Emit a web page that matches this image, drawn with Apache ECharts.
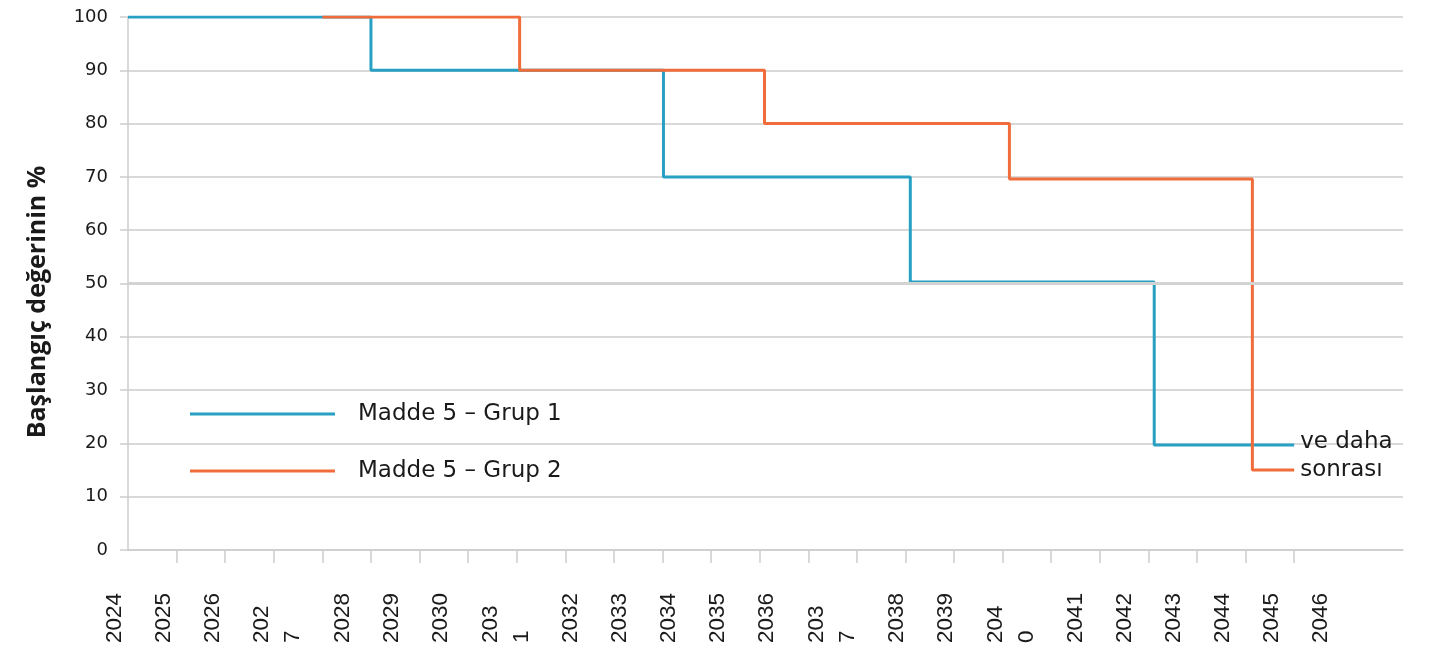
<!DOCTYPE html>
<html>
<head>
<meta charset="utf-8">
<script src="https://cdn.jsdelivr.net/npm/echarts@6/dist/echarts.min.js"></script>
<style>
  html, body { margin: 0; padding: 0; background: #ffffff; }
  #chart { width: 1430px; height: 648px; }
</style>
</head>
<body>
<div id="chart"></div>
<script>
// ---- data ----
// x positions are measured in tick intervals from the first tick (2024 = 0)
const tickLabels = ['2024', '2025', '2026', '202\n7', '2028', '2029', '2030', '203\n1', '2032', '2033',
  '2034', '2035', '2036', '203\n7', '2038', '2039', '204\n0', '2041', '2042', '2043', '2044', '2045', '2046'];
const tickCount = 25;
const yTicks = [0, 10, 20, 30, 40, 50, 60, 70, 80, 90, 100];

const group1Name = 'Madde 5 \u2013 Grup 1';
const group1X = [0, 5, 11.02, 16.1, 21.12, 24];
const group1Y = [100, 90, 70, 50.3, 19.7, 19.7];

const group2Name = 'Madde 5 \u2013 Grup 2';
const group2X = [4, 8.06, 13.1, 18.14, 23.14, 24];
const group2Y = [100, 90, 80, 69.6, 15, 15];

const endText1 = 've daha';
const endText2 = 'sonras\u0131';
const yTitle = 'Ba\u015flang\u0131\u00e7 de\u011ferinin %';
const emphasisLine = 50;

// ---- layout ----
const TICK_PX = 48.57;          // px per tick interval
const LABEL_STEP_PX = 49;       // spacing of single-line labels
const WRAP_EXTRA_PX = 32;       // extra room a wrapped label takes
const LINE_H = 31;              // label line height
const FIRST_LABEL_OFFSET = -13.3; // first label centre relative to first tick
const AXIS_MAX = 26.24;

// labels get a trailing blank line, which moves the text left by LINE_H/2,
// so anchors sit LINE_H/2 to the right of the wanted text centre.
// Empty placeholder labels at both axis ends keep ECharts' min/max label
// overlap check from hiding real labels.
const labelPos = [0];
const labelMap = {};
let extra = 0;
tickLabels.forEach((lab, i) => {
  const wrapped = lab.indexOf('\n') >= 0;
  const centre = FIRST_LABEL_OFFSET + LABEL_STEP_PX * i + extra + (wrapped ? WRAP_EXTRA_PX / 2 : 0);
  if (wrapped) extra += WRAP_EXTRA_PX;
  const v = +((centre + LINE_H / 2) / TICK_PX).toFixed(4);
  labelPos.push(v);
  labelMap[v.toFixed(4)] = lab;
});
labelPos.push(AXIS_MAX);
const tickPos = [];
for (let i = 0; i < tickCount; i++) tickPos.push(i);

const toPairs = (xs, ys) => xs.map((x, i) => [x, ys[i]]);

const GRID_COLOR = '#cdcdcd';
const TEXT_COLOR = '#1a1a1a';
const BLUE = '#27a0c4';
const ORANGE = '#f06d3b';

const chart = echarts.init(document.getElementById('chart'), null, { renderer: 'canvas' });
chart.setOption({
  animation: false,
  backgroundColor: '#ffffff',
  grid: { left: 128, right: 27, top: 17, bottom: 98, containLabel: false },
  legend: {
    orient: 'vertical',
    left: 190,
    top: 400,
    padding: 0,
    itemWidth: 145,
    itemHeight: 3,
    itemGap: 29,
    icon: 'rect',
    data: [group1Name, group2Name],
    textStyle: { fontFamily: 'DejaVu Sans', fontSize: 23, color: TEXT_COLOR, lineHeight: 28, padding: [0, 0, 0, 18] }
  },
  xAxis: {
    type: 'value',
    min: 0,
    max: AXIS_MAX,
    axisLine: { show: true, lineStyle: { color: GRID_COLOR, width: 1.5 } },
    axisTick: { show: true, customValues: tickPos, length: 13, lineStyle: { color: GRID_COLOR, width: 1.5 } },
    splitLine: { show: false },
    axisLabel: {
      customValues: labelPos,
      showMinLabel: false,
      showMaxLabel: false,
      hideOverlap: false,
      rotate: 90,
      align: 'left',
      verticalAlign: 'middle',
      margin: 93,
      fontFamily: 'Liberation Sans',
      fontSize: 22.5,
      lineHeight: LINE_H,
      color: TEXT_COLOR,
      formatter: (v) => {
        const lab = labelMap[(+v).toFixed(4)];
        return lab ? lab + '\n\u00a0' : '';
      }
    }
  },
  yAxis: {
    type: 'value',
    min: yTicks[0],
    max: yTicks[yTicks.length - 1],
    interval: yTicks[1] - yTicks[0],
    name: yTitle,
    nameLocation: 'middle',
    nameGap: 78,
    nameTextStyle: { fontFamily: 'Open Sans', fontWeight: 'bold', fontSize: 25, color: TEXT_COLOR, padding: [0, 37, 0, 0] },
    axisLine: { show: true, lineStyle: { color: GRID_COLOR, width: 1.5 } },
    axisTick: { show: true, length: 8, lineStyle: { color: GRID_COLOR, width: 1.5 } },
    splitLine: { show: true, lineStyle: { color: GRID_COLOR, width: 1.5 } },
    axisLabel: { margin: 20, fontFamily: 'DejaVu Sans', fontSize: 18, color: TEXT_COLOR }
  },
  series: [
    {
      type: 'line',
      data: [],
      z: 1,
      silent: true,
      markLine: {
        silent: true,
        symbol: 'none',
        label: { show: false },
        lineStyle: { color: '#d3d3d3', width: 3, type: 'solid' },
        data: [{ yAxis: emphasisLine }]
      }
    },
    {
      name: group1Name,
      type: 'line',
      step: 'end',
      z: 3,
      showSymbol: false,
      symbol: 'none',
      color: BLUE,
      lineStyle: { color: BLUE, width: 3 },
      data: toPairs(group1X, group1Y),
      endLabel: {
        show: true, formatter: endText1, distance: 6, offset: [0, -3],
        fontFamily: 'DejaVu Sans', fontSize: 23, color: TEXT_COLOR
      }
    },
    {
      name: group2Name,
      type: 'line',
      step: 'end',
      z: 4,
      showSymbol: false,
      symbol: 'none',
      color: ORANGE,
      lineStyle: { color: ORANGE, width: 3 },
      data: toPairs(group2X, group2Y),
      endLabel: {
        show: true, formatter: endText2, distance: 6,
        fontFamily: 'DejaVu Sans', fontSize: 23, color: TEXT_COLOR
      }
    }
  ]
});
</script>
</body>
</html>
